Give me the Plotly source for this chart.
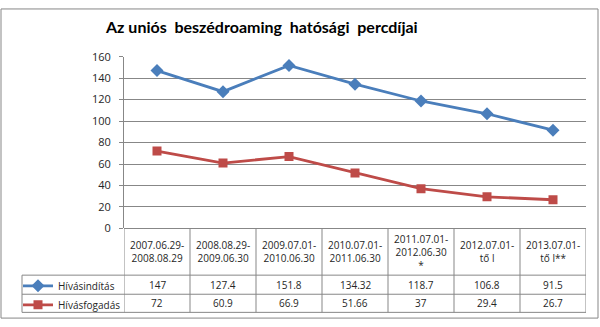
import plotly.graph_objects as go

# ---- data ----
categories = [
    "2007.06.29-<br>2008.08.29",
    "2008.08.29-<br>2009.06.30",
    "2009.07.01-<br>2010.06.30",
    "2010.07.01-<br>2011.06.30",
    "2011.07.01-<br>2012.06.30<br>*",
    "2012.07.01-<br>tő l",
    "2013.07.01-<br>tő l**",
]
series_names = ["Hívásindítás", "Hívásfogadás"]
hivasinditas = [147, 127.4, 151.8, 134.32, 118.7, 106.8, 91.5]
hivasfogadas = [72, 60.9, 66.9, 51.66, 37, 29.4, 26.7]
y_ticks = [0, 20, 40, 60, 80, 100, 120, 140, 160]
title_text = "Az uniós  beszédroaming  hatósági  percdíjai"

# ---- geometry (pixels) ----
W, H = 600, 327
PX_L, PX_R = 124, 586          # plot area left/right
PY_T, PY_B = 51, 231           # plot area top (160) / bottom (0)
ROW1, ROW2, ROW3 = 280, 300, 319
LEG_L = 22

def px(x):
    return x / W

def py(y):
    return 1 - y / H

blue = "#4A7EBB"
red = "#BE4B48"
grid = "#878787"
txt = "#262626"
font_family = "Open Sans, Lato, Liberation Sans, sans-serif"

idx = list(range(len(categories)))
series = [hivasinditas, hivasfogadas]
colors = [blue, red]
symbols = ["diamond", "square"]
msizes = [10, 9]

fig = go.Figure()
for name, vals, c, s, ms in zip(series_names, series, colors, symbols, msizes):
    fig.add_trace(go.Scatter(
        x=idx, y=vals, name=name, mode="lines+markers",
        line=dict(color=c, width=2.8),
        marker=dict(symbol=s, size=ms, color=c, line=dict(width=0)),
    ))

shapes = []
# outer border
shapes.append(dict(type="rect", xref="paper", yref="paper",
                   x0=px(1), x1=px(598), y0=py(325), y1=py(1),
                   line=dict(color=grid, width=1), fillcolor="rgba(0,0,0,0)"))
# table vertical lines
for i in range(len(categories) + 1):
    xv = i - 0.5
    shapes.append(dict(type="line", xref="x", yref="paper",
                       x0=xv, x1=xv, y0=py(PY_B), y1=py(ROW3),
                       line=dict(color=grid, width=1)))
# table horizontal lines
for yy in [ROW1, ROW2, ROW3]:
    shapes.append(dict(type="line", xref="paper", yref="paper",
                       x0=px(LEG_L), x1=px(PX_R), y0=py(yy), y1=py(yy),
                       line=dict(color=grid, width=1)))
shapes.append(dict(type="line", xref="paper", yref="paper",
                   x0=px(LEG_L), x1=px(LEG_L), y0=py(ROW1), y1=py(ROW3),
                   line=dict(color=grid, width=1)))

annotations = []
# title
annotations.append(dict(text="<b>" + title_text + "</b>", xref="paper", yref="paper",
                        x=px(261), y=py(19), xanchor="center", yanchor="middle",
                        showarrow=False,
                        font=dict(family="Lato, Open Sans, sans-serif", size=16, color="#000")))
# header cells
for i, cat in enumerate(categories):
    annotations.append(dict(text=cat, xref="x", yref="paper", x=i, y=py((PY_B + ROW1) / 2),
                            xanchor="center", yanchor="middle", showarrow=False,
                            font=dict(family=font_family, size=10, color=txt)))
# value rows
for vals, (r0, r1) in zip(series, [(ROW1, ROW2), (ROW2, ROW3)]):
    for i, v in enumerate(vals):
        annotations.append(dict(text=f"{v:g}", xref="x", yref="paper", x=i, y=py((r0 + r1) / 2),
                                xanchor="center", yanchor="middle", showarrow=False,
                                font=dict(family=font_family, size=10, color=txt)))

fig.update_layout(
    width=W, height=H,
    margin=dict(l=0, r=0, t=0, b=0),
    paper_bgcolor="white", plot_bgcolor="white",
    xaxis=dict(domain=[px(PX_L), px(PX_R)], range=[-0.5, len(categories) - 0.5],
               showticklabels=False, showgrid=False, zeroline=False, showline=False,
               ticks="", fixedrange=True),
    yaxis=dict(domain=[py(PY_B), py(PY_T)], range=[0, 160], tickvals=y_ticks,
               showgrid=True, gridcolor=grid, gridwidth=1, zeroline=True,
               zerolinecolor=grid, zerolinewidth=1,
               showline=True, linecolor=grid, linewidth=1,
               ticks="outside", ticklen=4, tickcolor=grid,
               tickfont=dict(family=font_family, size=11, color=txt),
               ticklabelstandoff=6, fixedrange=True),
    showlegend=True,
    legend=dict(x=px(LEG_L - 4), y=py(ROW1 - 4), xanchor="left", yanchor="top",
                bgcolor="rgba(0,0,0,0)", borderwidth=0,
                font=dict(family=font_family, size=10, color=txt),
                tracegroupgap=0, itemclick=False, itemdoubleclick=False),
    shapes=shapes,
    annotations=annotations,
)

fig.write_html("out.html")
